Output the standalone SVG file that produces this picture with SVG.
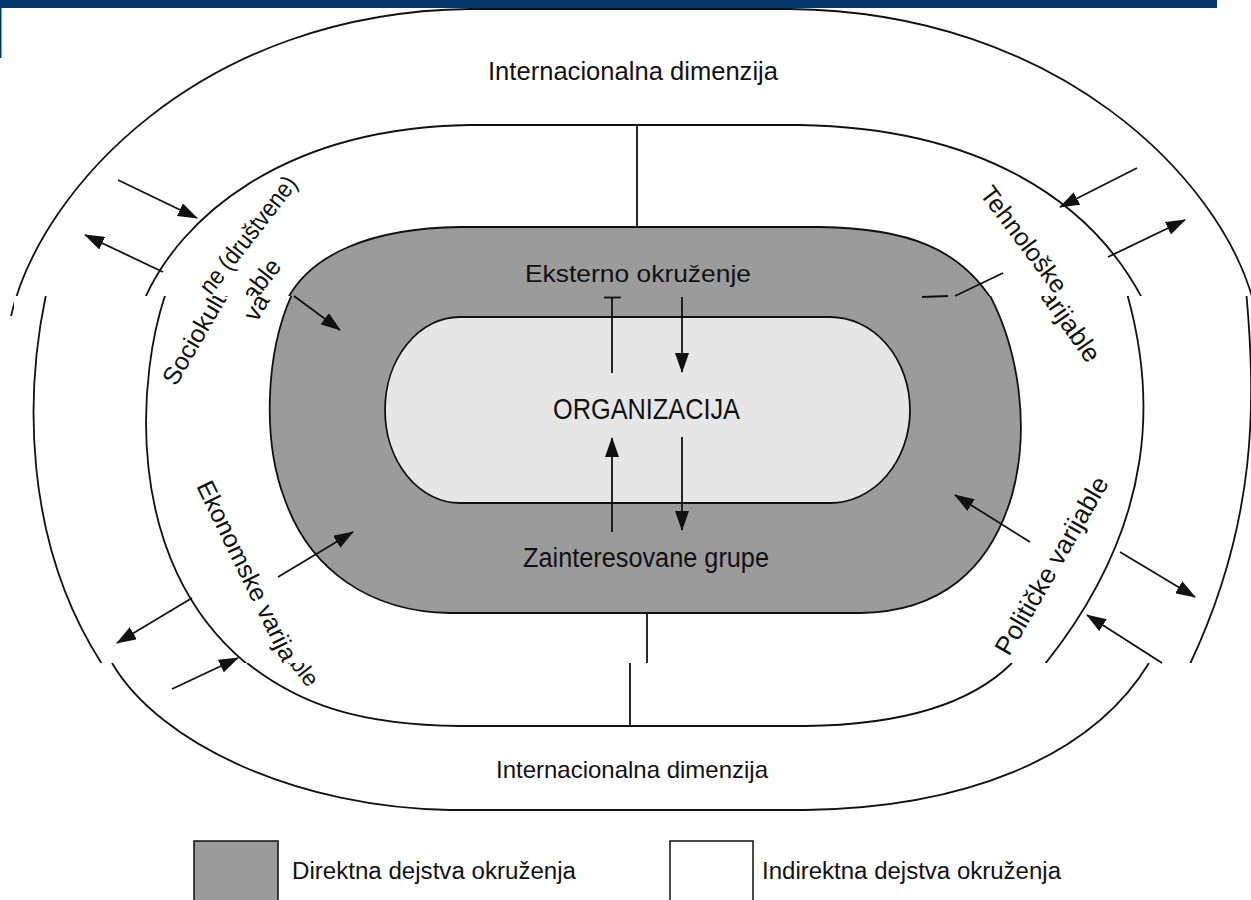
<svg xmlns="http://www.w3.org/2000/svg" width="1251" height="900" viewBox="0 0 1251 900">
<defs>
<style>
.ln{fill:none;stroke:#111;stroke-width:1.8}
.ar{fill:none;stroke:#111;stroke-width:1.8;marker-end:url(#ah)}
.t{font-family:"Liberation Sans",Arial,sans-serif;fill:#111}
.gray{fill:#9b9b9b;stroke:#111;stroke-width:1.8}
.light{fill:#e6e6e6;stroke:#111;stroke-width:1.8}
.navy{fill:#03366a}
</style>
<marker id="ah" viewBox="0 0 20 14" refX="19" refY="7" markerWidth="20" markerHeight="14" markerUnits="userSpaceOnUse" orient="auto"><path d="M0,0 L20,7 L0,14 Z" fill="#111"/></marker>
<clipPath id="midclip"><rect x="14" y="296" width="1237" height="367"/></clipPath>
</defs>
<rect width="1251" height="900" fill="#fff"/>

<g id="band-bottom">
  <g id="outer-ring-bottom">
    <path class="ln" d="M112,663 C160,745 300,808 450,810 L805,810 C960,808 1090,760 1149,663"/>
    <path class="ln" d="M247,663 C300,705 360,725 460,726 L805,726 C900,725 970,705 1012,663"/>
    <text class="t" x="496" y="778" font-size="24" textLength="272" lengthAdjust="spacingAndGlyphs">Internacionalna dimenzija</text>
  </g>
  <text class="t" x="281" y="654" font-size="23" transform="rotate(52 281 654)">able</text>
</g>

<g id="band-top">
  <g id="direct-env-top">
    <path class="gray" d="M287,300 C310,255 370,228 460,227 L820,227 C910,228 960,250 992,300 Z"/>
    <text class="t" x="525" y="282" font-size="24" textLength="226" lengthAdjust="spacingAndGlyphs">Eksterno okruženje</text>
  </g>
  <g id="outer-ring-top">
    <path class="ln" d="M11,316 C40,190 200,12 470,9 L790,9 C1060,12 1220,180 1253,300"/>
    <path class="ln" d="M145,298 C180,220 280,128 470,125 L800,125 C980,128 1090,200 1142,298"/>
    <text class="t" x="488" y="80" font-size="25" textLength="290" lengthAdjust="spacingAndGlyphs">Internacionalna dimenzija</text>
  </g>
  <g id="labels-top">
    <text class="t" x="211" y="296" font-size="25" textLength="142" lengthAdjust="spacingAndGlyphs" transform="rotate(-52 211 296)">ne (društvene)</text>
    <text class="t" x="254" y="303" font-size="25" textLength="46" lengthAdjust="spacingAndGlyphs" transform="rotate(-52 254 303)">able</text>
    <text class="t" x="979" y="194" font-size="25" transform="rotate(53 979 194)">Tehnološke</text>
  </g>
</g>

<g id="header"><rect class="navy" x="0" y="0" width="1217" height="8"/><rect class="navy" x="0" y="0" width="1.5" height="58"/></g>

<g id="band-middle">
  <rect x="14" y="296" width="1237" height="367" fill="#fff"/>
  <g clip-path="url(#midclip)">
    <g id="outer-ring-middle">
      <path class="ln" d="M47,290 C25,390 22,540 102,664"/>
      <path class="ln" d="M1246,290 C1256,400 1258,520 1190,664"/>
      <path class="ln" d="M167,290 C138,370 120,560 247,664"/>
      <path class="ln" d="M1126,290 C1155,390 1160,520 1045,664"/>
    </g>
    <g id="direct-env">
      <path class="gray" d="M294,290 C265,350 262,440 285,500 C310,570 370,612 450,613 L860,613 C940,612 990,570 1012,495 C1030,430 1020,350 987,290 Z"/>
      <text class="t" x="523" y="567" font-size="27" textLength="246" lengthAdjust="spacingAndGlyphs">Zainteresovane grupe</text>
    </g>
    <g id="organization">
      <path class="light" d="M460,317 L830,317 A80,93 0 0 1 830,503 L460,503 A75,93 0 0 1 460,317 Z"/>
      <text class="t" x="553" y="419" font-size="30" textLength="187" lengthAdjust="spacingAndGlyphs">ORGANIZACIJA</text>
    </g>
    <g id="labels-middle">
      <text class="t" x="176" y="387" font-size="25" transform="rotate(-60 176 387)">Sociokultu</text>
      <text class="t" x="257" y="323" font-size="25" transform="rotate(-60 257 323)">va</text>
      <text class="t" x="196" y="486" font-size="25" transform="rotate(64 196 486)">Ekonomske varija</text>
      <text class="t" x="1009" y="657" font-size="26" transform="rotate(-60 1009 657)">Političke varijable</text>
      <text class="t" x="1032" y="285" font-size="26" transform="rotate(55 1032 285)">varijable</text>
    </g>
  </g>
</g>

<g id="connectors">
  <line class="ln" x1="637" y1="125" x2="637" y2="227"/>
  <line class="ln" x1="647" y1="613" x2="647" y2="663"/>
  <line class="ln" x1="630" y1="663" x2="630" y2="726"/>
  <line class="ar" x1="118" y1="180" x2="197" y2="218"/>
  <line class="ar" x1="163" y1="272" x2="85" y2="235"/>
  <line class="ar" x1="1137" y1="168" x2="1060" y2="207"/>
  <line class="ar" x1="1108" y1="257" x2="1185" y2="220"/>
  <line class="ln" x1="955" y1="296" x2="1003" y2="273"/>
  <line class="ln" x1="922" y1="297" x2="948" y2="296"/>
  <line class="ar" x1="294" y1="296" x2="340" y2="330"/>
  <line class="ar" x1="278" y1="577" x2="353" y2="532"/>
  <line class="ar" x1="192" y1="598" x2="117" y2="643"/>
  <line class="ar" x1="1030" y1="542" x2="955" y2="495"/>
  <line class="ar" x1="1120" y1="552" x2="1195" y2="597"/>
  <line class="ar" x1="1162" y1="663" x2="1087" y2="615"/>
  <line class="ar" x1="612" y1="532" x2="612" y2="438"/>
  <line class="ar" x1="682" y1="437" x2="682" y2="530"/>
  <line class="ar" x1="682" y1="297" x2="682" y2="372"/>
  <line class="ln" x1="612" y1="373" x2="612" y2="297"/>
  <line class="ln" x1="604" y1="297.5" x2="621" y2="297.5"/>
  <line class="ar" x1="172" y1="689" x2="238" y2="658"/>
</g>

<g id="legend">
  <rect x="194" y="841" width="84" height="70" fill="#9b9b9b" stroke="#111" stroke-width="1.5"/>
  <text class="t" x="292" y="879" font-size="23" textLength="284" lengthAdjust="spacingAndGlyphs">Direktna dejstva okruženja</text>
  <rect x="670" y="841" width="83" height="70" fill="#fff" stroke="#111" stroke-width="1.5"/>
  <text class="t" x="762" y="879" font-size="23" textLength="299" lengthAdjust="spacingAndGlyphs">Indirektna dejstva okruženja</text>
</g>
</svg>
